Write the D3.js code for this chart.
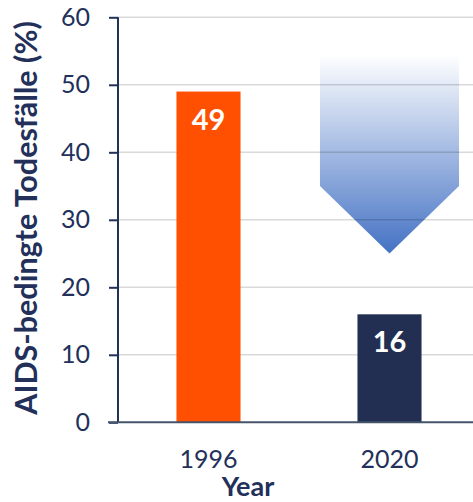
<!DOCTYPE html>
<meta charset="utf-8">
<style>
    body { margin: 0; background: #fff; }
    text { font-family: Lato, "Open Sans", sans-serif; }
</style>
<body>
    <div id="chart"></div>
    <script src="https://d3js.org/d3.v7.min.js"></script>
    <script>
        // values
        var years = ['1996', '2020']
        var deaths = [49, 16]
        var barColors = ['#fe5000', '#222f52']
        var yTicks = [0, 10, 20, 30, 40, 50, 60]
        // decline arrow, in data units (% on the y axis)
        var arrowTop = 54.5
        var arrowShoulder = 35
        var arrowTip = 25

        var width = 473
        var height = 502
        var navy = '#22305a'

        var svg = d3.select('#chart')
            .append('svg')
            .attr('width', width)
            .attr('height', height)

        var y = d3.scaleLinear()
            .domain([0, 60])
            .range([422.3, 17.3])

        var x = d3.scaleBand()
            .domain(years)
            .range([118, 480])
            .paddingInner(0.646)
            .paddingOuter(0.323)

        // gradient for the arrow
        var defs = svg.append('defs')
        var grad = defs.append('linearGradient')
            .attr('id', 'arrowGrad')
            .attr('x1', 0).attr('y1', 0)
            .attr('x2', 0).attr('y2', 1)
        grad.append('stop').attr('offset', '0%').attr('stop-color', '#ffffff')
        grad.append('stop').attr('offset', '100%').attr('stop-color', '#4472c4')

        // arrow pointing down at the 2020 bar
        var cx = x('2020') + x.bandwidth() / 2
        var half = x.bandwidth() * 1.085
        var arrow = d3.path()
        arrow.moveTo(cx - half, y(arrowTop))
        arrow.lineTo(cx + half, y(arrowTop))
        arrow.lineTo(cx + half, y(arrowShoulder))
        arrow.lineTo(cx, y(arrowTip))
        arrow.lineTo(cx - half, y(arrowShoulder))
        arrow.closePath()
        svg.append('path')
            .attr('d', arrow.toString())
            .style('fill', 'url(#arrowGrad)')

        // gridlines
        svg.append('g')
            .selectAll('line')
            .data(yTicks.filter(function (d) { return d > 0 }))
            .enter()
            .append('line')
            .attr('x1', 118)
            .attr('x2', width)
            .attr('y1', function (d) { return y(d) })
            .attr('y2', function (d) { return y(d) })
            .style('stroke', 'rgba(0,0,0,0.15)')
            .style('stroke-width', 1.5)

        // bars
        svg.append('g')
            .selectAll('rect')
            .data(deaths)
            .enter()
            .append('rect')
            .attr('x', function (d, i) { return x(years[i]) })
            .attr('width', x.bandwidth())
            .attr('y', function (d) { return y(d) })
            .attr('height', function (d) { return y(0) - y(d) })
            .style('fill', function (d, i) { return barColors[i] })

        // value labels
        svg.append('g')
            .selectAll('text')
            .data(deaths)
            .enter()
            .append('text')
            .attr('x', function (d, i) { return x(years[i]) + x.bandwidth() / 2 })
            .attr('y', function (d) { return y(d) + 38 })
            .attr('text-anchor', 'middle')
            .style('fill', '#fff')
            .style('font-weight', 'bold')
            .style('font-size', '29px')
            .text(function (d) { return d })

        // y axis
        var yAxis = d3.axisLeft(y)
            .tickValues(yTicks)
            .tickSize(9)
            .tickPadding(19)
        var gy = svg.append('g')
            .attr('transform', 'translate(118,0)')
            .call(yAxis)
        gy.select('.domain').attr('d', 'M0,' + y(60) + 'V' + y(0))
            .style('stroke', navy).style('stroke-width', 2)
        gy.selectAll('.tick line').style('stroke', navy).style('stroke-width', 2)
        gy.selectAll('.tick text')
            .style('fill', navy)
            .style('font-size', '25px')
            .style('font-family', 'Lato, sans-serif')

        // x axis
        var xAxis = d3.axisBottom(x).tickSize(0).tickPadding(28)
        var gx = svg.append('g')
            .attr('transform', 'translate(0,' + y(0) + ')')
            .call(xAxis)
        gx.select('.domain').attr('d', 'M108,0H' + width)
            .style('stroke', '#44546a').style('stroke-width', 2)
        gx.selectAll('.tick text')
            .style('fill', navy)
            .style('font-size', '25px')
            .style('font-family', 'Lato, sans-serif')

        // axis titles
        svg.append('text')
            .attr('x', 248)
            .attr('y', 496)
            .attr('text-anchor', 'middle')
            .style('fill', navy)
            .style('font-weight', 'bold')
            .style('font-size', '27px')
            .text('Year')

        svg.append('text')
            .attr('transform', 'translate(37,' + 218 + ') rotate(-90)')
            .attr('text-anchor', 'middle')
            .style('fill', navy)
            .style('font-weight', 'bold')
            .style('font-size', '30.5px')
            .text('AIDS-bedingte Todesfälle (%)')
    </script>
</body>
